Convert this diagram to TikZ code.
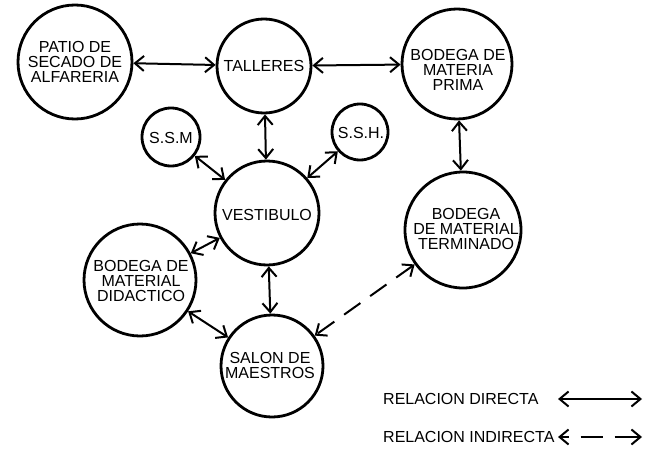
\documentclass[tikz,border=0pt]{standalone}
\usepackage{fontspec}
\setmainfont{Liberation Sans}
\usetikzlibrary{arrows.meta}
\begin{document}
\begin{tikzpicture}[x=1pt,y=-1pt,
  room/.style={circle,draw,line width=2.8pt,inner sep=0pt,align=center,
    font=\fontsize{16}{15}\selectfont},
  txt/.style={align=center,font=\fontsize{16}{15}\selectfont},
  rel/.style={line width=2pt,{Straight Barb[length=9pt,width=15pt,line width=2pt]}-{Straight Barb[length=9pt,width=15pt,line width=2pt]}},
  relind/.style={rel,dash pattern=on 20pt off 12pt},
  lbl/.style={anchor=west,inner sep=0pt,font=\fontsize{16}{15}\selectfont}]
\useasboundingbox (0,0) rectangle (661,452);
\node[room,minimum size=114pt] (patio) at (75,62) {};
\node[txt] (tpatio) at (75,62) {PATIO DE\\SECADO DE\\ALFARERIA};
\node[room,minimum size=94pt] (talleres) at (264,66) {};
\node[txt] (ttalleres) at (264,66) {TALLERES};
\node[room,minimum size=110pt] (bmp) at (457,64) {};
\node[txt] (tbmp) at (458,70) {BODEGA DE\\MATERIA\\PRIMA};
\node[room,minimum size=58pt] (ssm) at (171,137) {};
\node[txt] (tssm) at (171,138) {S.S.M};
\node[room,minimum size=56pt] (ssh) at (360,132) {};
\node[txt] (tssh) at (361,133) {S.S.H.};
\node[room,minimum size=104pt] (vest) at (267,213) {};
\node[txt] (tvest) at (267,215) {VESTIBULO};
\node[room,minimum size=116pt] (bmt) at (463,230) {};
\node[txt] (tbmt) at (466,229) {BODEGA\\DE MATERIAL\\TERMINADO};
\node[room,minimum size=112pt] (bmd) at (140,280) {};
\node[txt] (tbmd) at (141,281) {BODEGA DE\\MATERIAL\\DIDACTICO};
\node[room,minimum size=102pt] (salon) at (272,366) {};
\node[txt] (tsalon) at (270,365) {SALON DE\\MAESTROS};
\draw[rel] (patio) -- (talleres);
\draw[rel] (talleres) -- (bmp);
\draw[rel] (bmp) -- (bmt);
\draw[rel] (talleres) -- (vest);
\draw[rel] (ssm) -- (vest);
\draw[rel] (ssh) -- (vest);
\draw[rel] (bmd) -- (vest);
\draw[rel] (bmd) -- (salon);
\draw[rel] (vest) -- (salon);
\draw[relind] (bmt) -- (salon);
\node[lbl] (l1) at (383,399) {RELACION DIRECTA};
\node[lbl] (l2) at (383,437) {RELACION INDIRECTA};
\coordinate (a1) at (558,399);
\coordinate (b1) at (642,399);
\coordinate (a2) at (558,437);
\coordinate (b2) at (642,437);
\draw[rel] (a1) -- (b1);
\draw[rel,dash pattern=on 8pt off 12pt on 22pt off 12pt on 40pt] (a2) -- (b2);
\end{tikzpicture}
\end{document}
